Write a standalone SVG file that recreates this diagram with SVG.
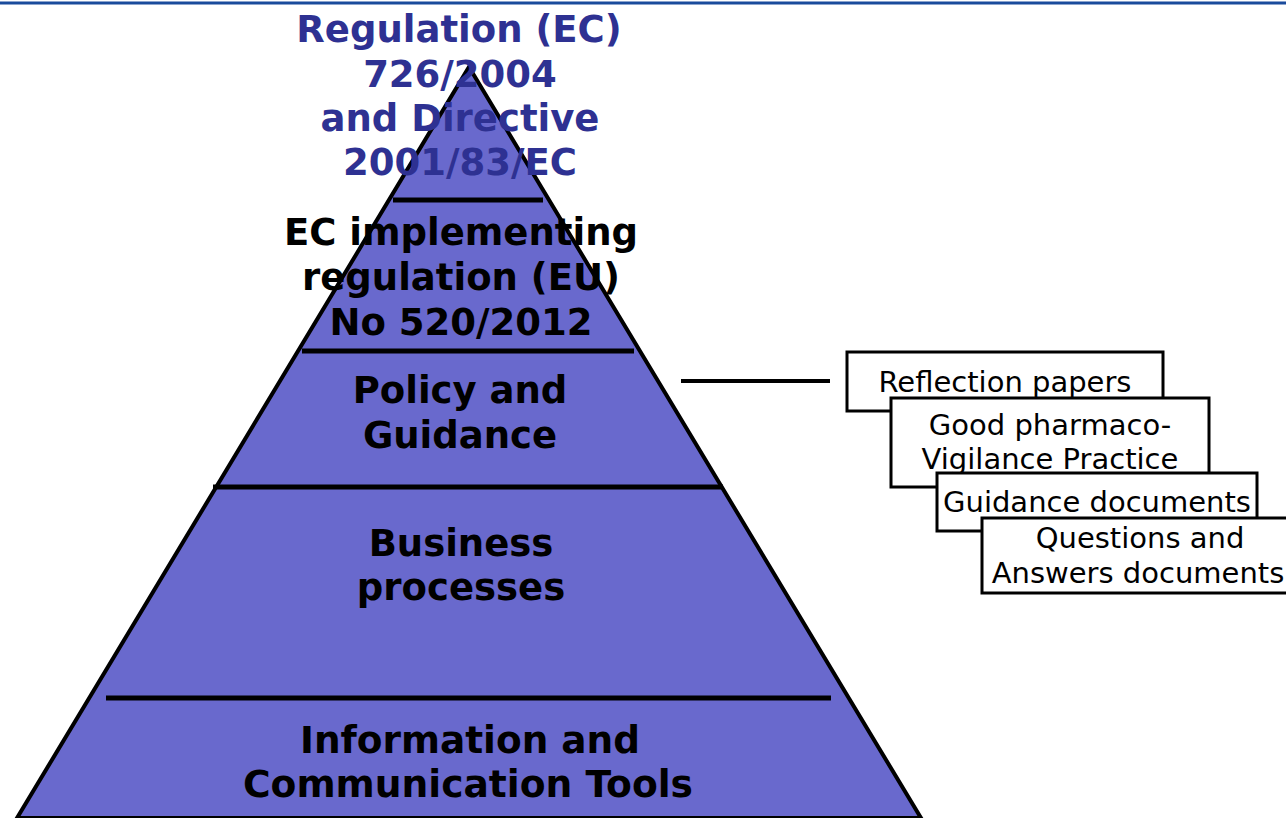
<svg xmlns="http://www.w3.org/2000/svg" width="1286" height="818" viewBox="0 0 1286 818">
<style>
.pt{font-family:"DejaVu Sans",Verdana,sans-serif;font-weight:bold;font-size:37px;text-anchor:middle;fill:#000}
.top{fill:#2E3192}
.bt{font-family:"DejaVu Sans",Verdana,sans-serif;font-size:29px;text-anchor:middle;fill:#000}
.box{fill:#fff;stroke:#000;stroke-width:3}
.sep{stroke:#000;stroke-width:5}
</style>
<rect width="1286" height="818" fill="#fff"/>
<line x1="0" y1="3" x2="1286" y2="3" stroke="#1A4B9C" stroke-width="3"/>
<g id="pyramid">
<polygon points="469,67 921,818 17,818" fill="#6969CD" stroke="#000" stroke-width="4" stroke-linejoin="miter"/>
<line class="sep" x1="393" y1="200" x2="543" y2="200"/>
<line class="sep" x1="302" y1="351" x2="634" y2="351"/>
<line class="sep" x1="213" y1="487" x2="723" y2="487"/>
<line class="sep" x1="106" y1="698" x2="831" y2="698"/>
</g>
<g id="level-regulation">
<text class="pt top" x="459" y="42">Regulation (EC)</text>
<text class="pt top" x="460" y="87">726/2004</text>
<text class="pt top" x="460" y="131">and Directive</text>
<text class="pt top" x="460" y="175">2001/83/EC</text>
</g>
<g id="level-implementing">
<text class="pt" x="461" y="245">EC implementing</text>
<text class="pt" x="461" y="290">regulation (EU)</text>
<text class="pt" x="461" y="335">No 520/2012</text>
</g>
<g id="level-policy">
<text class="pt" x="460" y="403">Policy and</text>
<text class="pt" x="460" y="448">Guidance</text>
</g>
<g id="level-business">
<text class="pt" x="461" y="556">Business</text>
<text class="pt" x="461" y="600">processes</text>
</g>
<g id="level-tools">
<text class="pt" x="470" y="753" textLength="340" lengthAdjust="spacingAndGlyphs">Information and</text>
<text class="pt" x="468" y="797" textLength="450" lengthAdjust="spacingAndGlyphs">Communication Tools</text>
</g>
<g id="connectors">
<line x1="681" y1="381" x2="830" y2="381" stroke="#000" stroke-width="4"/>
</g>
<g id="box-reflection">
<rect class="box" x="847" y="352" width="316" height="59"/>
<text class="bt" x="1005" y="392">Reflection papers</text>
</g>
<g id="box-gvp">
<rect class="box" x="891" y="398" width="318" height="89"/>
<text class="bt" x="1050" y="435">Good pharmaco-</text>
<text class="bt" x="1050" y="469">Vigilance Practice</text>
</g>
<g id="box-guidance">
<rect class="box" x="937" y="473" width="320" height="58"/>
<text class="bt" x="1097" y="512">Guidance documents</text>
</g>
<g id="box-qa">
<rect class="box" x="982" y="518" width="320" height="75"/>
<text class="bt" x="1140" y="548">Questions and</text>
<text class="bt" x="1138" y="583">Answers documents</text>
</g>
</svg>
